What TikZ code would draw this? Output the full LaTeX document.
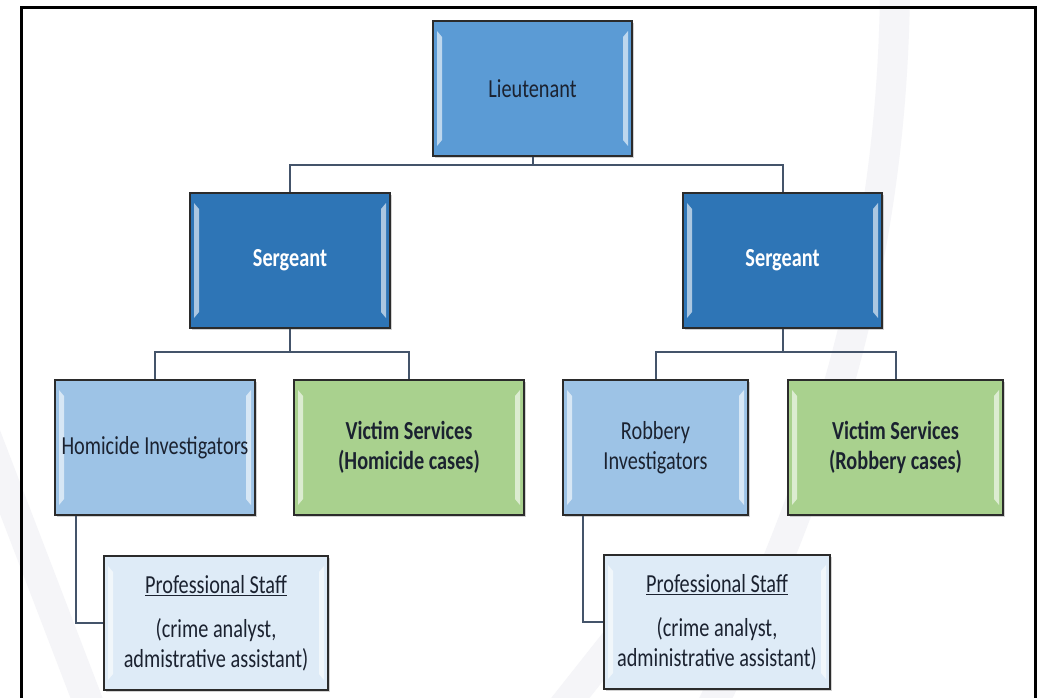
\documentclass[tikz,border=0pt]{standalone}
\usepackage{fontspec}
\setmainfont{Carlito}[FakeStretch=0.78]
\usetikzlibrary{shadows}
\definecolor{ltfill}{HTML}{5B9BD5}
\definecolor{sgfill}{HTML}{2E75B6}
\definecolor{invfill}{HTML}{9DC3E6}
\definecolor{vsfill}{HTML}{A9D18E}
\definecolor{psfill}{HTML}{DEEBF7}
\definecolor{edgecol}{HTML}{2B2B2B}
\definecolor{linkcol}{HTML}{44546A}
\definecolor{txtcol}{HTML}{1B2230}
\definecolor{bandcol}{HTML}{F5F5F8}
\tikzset{
  orgbox/.style={draw=edgecol, line width=2pt, rectangle, inner sep=0pt,
    align=center, text=txtcol, font=\fontsize{26}{30}\selectfont,
    drop shadow={shadow xshift=1.5pt, shadow yshift=-1.5pt, opacity=0.35},
    path picture={
      \fill[white, opacity=0.6]
        ([xshift=4pt,yshift=-10pt]path picture bounding box.north west) --
        ([xshift=9pt,yshift=-16pt]path picture bounding box.north west) --
        ([xshift=9pt,yshift=16pt]path picture bounding box.south west) --
        ([xshift=4pt,yshift=10pt]path picture bounding box.south west) -- cycle;
      \fill[white, opacity=0.6]
        ([xshift=-4pt,yshift=-10pt]path picture bounding box.north east) --
        ([xshift=-9pt,yshift=-16pt]path picture bounding box.north east) --
        ([xshift=-9pt,yshift=16pt]path picture bounding box.south east) --
        ([xshift=-4pt,yshift=10pt]path picture bounding box.south east) -- cycle;
    }},
  boldtext/.style={font=\fontsize{26}{30}\selectfont\bfseries},
  link/.style={draw=linkcol, line width=2pt},
  frameline/.style={draw=black, line width=3pt}
}
\begin{document}
\begin{tikzpicture}[x=1pt, y=-1pt]
\useasboundingbox (0,0) rectangle (1043,697);
\fill[white] (0,0) rectangle (1043,697);
% faint background bands
\draw[bandcol, line width=30pt] (895,-10) .. controls (892,250) and (830,470) .. (705,720);
\draw[bandcol, line width=30pt] (-20,420) -- (95,720);
\draw[bandcol, line width=30pt] (545,730) -- (640,610);
% frame
\draw[frameline] (21,710) -- (21,7) -- (1035,7) -- (1035,710);

\coordinate (b1) at (532.5,165);
\coordinate (b2) at (290,352);
\coordinate (b3) at (782.5,352);

% nodes
\node[orgbox, fill=ltfill, minimum width=199pt, minimum height=135pt] (lt) at (532.5,88.5) {Lieutenant};
\node[orgbox, fill=sgfill, text=white, boldtext, minimum width=200pt, minimum height=135pt] (sgL) at (290,260.5) {Sergeant};
\node[orgbox, fill=sgfill, text=white, boldtext, minimum width=199pt, minimum height=135pt] (sgR) at (782.5,260.5) {Sergeant};
\node[orgbox, fill=invfill, minimum width=200pt, minimum height=135pt] (hom) at (155,447.5) {Homicide Investigators};
\node[orgbox, fill=vsfill, boldtext, minimum width=230pt, minimum height=135pt] (vsH) at (409,447.5) {Victim Services\\(Homicide cases)};
\node[orgbox, fill=invfill, minimum width=185pt, minimum height=135pt] (rob) at (655.5,447.5) {Robbery\\Investigators};
\node[orgbox, fill=vsfill, boldtext, minimum width=215pt, minimum height=135pt] (vsR) at (895.5,447.5) {Victim Services\\(Robbery cases)};
\node[orgbox, fill=psfill, minimum width=224pt, minimum height=134pt] (psL) at (216,623) {\underline{Professional Staff}\\[14pt](crime analyst,\\admistrative assistant)};
\node[orgbox, fill=psfill, minimum width=226pt, minimum height=134pt] (psR) at (717,622) {\underline{Professional Staff}\\[14pt](crime analyst,\\administrative assistant)};

% connectors
\draw[link] (lt.south) -- (b1);
\draw[link] (sgL.north) |- (b1) -| (sgR.north);
\draw[link] (sgL.south) -- (b2);
\draw[link] (hom.north) |- (b2) -| (vsH.north);
\draw[link] (sgR.south) -- (b3);
\draw[link] (rob.north) |- (b3) -| (vsR.north);
\draw[link] ([xshift=-79pt]hom.south) |- (psL.west);
\draw[link] ([xshift=-72.5pt]rob.south) |- (psR.west);
\end{tikzpicture}
\end{document}
